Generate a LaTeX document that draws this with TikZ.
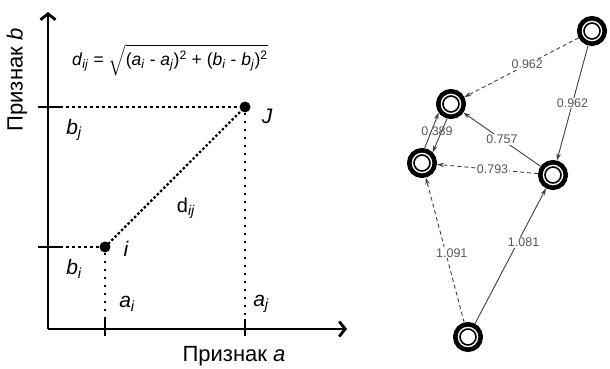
\RequirePackage{fix-cm}
\documentclass[tikz,border=0pt]{standalone}
\usepackage{amsmath}
\usepackage{fontspec}
\setmainfont{Liberation Sans}
\usetikzlibrary{arrows.meta}
\newcommand{\ftr}[2]{\textit{#1}\textsubscript{\textit{#2}}}

\begin{document}
\begin{tikzpicture}[x=1pt,y=-1pt,>=Stealth,
  axis/.style={line width=2.8pt,-{Straight Barb[length=6pt,width=15pt]}},
  tickmark/.style={line width=2.8pt},
  proj/.style={line width=1.3pt,dash pattern=on 3pt off 3pt},
  drop/.style={line width=1.6pt,dash pattern=on 2pt off 6pt},
  dist/.style={line width=3.4pt,dash pattern=on 0pt off 4.6pt,line cap=round},
  pt/.style={circle,fill,inner sep=0pt,minimum size=11pt},
  lbl/.style={font=\fontsize{21}{24}\selectfont\itshape},
  ttl/.style={font=\fontsize{22}{25}\selectfont},
  obj/.style={circle,draw,line width=4.6pt,minimum size=25.5pt,inner sep=0pt,
    path picture={\draw[line width=1.6pt] (path picture bounding box.center) circle (8pt);}},
  link/.style={line width=0.9pt,draw=black!75,-{Stealth[length=7pt,width=4.5pt]}},
  dlink/.style={link,dash pattern=on 4pt off 3pt},
  num/.style={font=\fontsize{12.5}{14}\selectfont,text=black!65,fill=white,inner sep=1pt},
]
\useasboundingbox (0,0) rectangle (610,369);

%% Axes
\def\Ox{48}
\def\Oy{329}
\coordinate (O) at (\Ox,\Oy);
\coordinate (ytop) at (\Ox,12);
\coordinate (xend) at (347,\Oy);
\draw[axis] (O) -- (ytop);
\draw[axis] (O) -- (xend);
\node[ttl,rotate=90] (tb) at (17,80) {Признак \textit{b}};
\node[ttl] (ta) at (234,356) {Признак \textit{a}};

%% Tick positions
\coordinate (ai) at (105,\Oy);
\coordinate (aj) at (245,\Oy);
\coordinate (bi) at (\Ox,247);
\coordinate (bj) at (\Ox,107);
\foreach \t in {ai,aj} \draw[tickmark] ([yshift=-7pt]\t) -- ([yshift=10pt]\t);
\foreach \t in {bi,bj} \draw[tickmark] ([xshift=-10pt]\t) -- ([xshift=12pt]\t);

%% Objects i and J
\node[pt] (pi) at (105,247) {};
\node[pt] (pj) at (245,107) {};
\draw[proj] (bj) -- (pj);
\draw[proj] (bi) -- (pi);
\draw[drop] (pj) -- (aj);
\draw[drop] (pi) -- (ai);
\draw[dist] (pi) -- (pj);

\node[lbl] (li) at (126,249) {i};
\node[lbl] (lj) at (267,116) {J};
\node[lbl] (lbj) at (74,130) {\ftr{b}{j}};
\node[lbl] (lbi) at (74,269) {\ftr{b}{i}};
\node[lbl] (lai) at (127,304) {\ftr{a}{i}};
\node[lbl] (laj) at (261,304) {\ftr{a}{j}};
\node[font=\fontsize{20}{22}\selectfont] (ld) at (186,208) {d\textsubscript{\textit{ij}}};

%% Formula
\node[font=\fontsize{17.5}{20}\selectfont] (frm) at (170,60)
  {\ftr{d}{ij} = $\sqrt{\hbox{(\ftr{a}{i} - \ftr{a}{j})\textsuperscript{2} + (\ftr{b}{i} - \ftr{b}{j})\textsuperscript{2}}}$};

%% ================================================================
%%  Graph of objects
%% ================================================================
\node[obj] (n1) at (592,31) {};
\node[obj] (n2) at (451,104) {};
\node[obj] (n3) at (422,163) {};
\node[obj] (n4) at (553,175) {};
\node[obj] (n5) at (468,337) {};

\draw[dlink] (n1) -- (n2) node[num,pos=0.45] {0.962};
\draw[link] (n1) -- (n4) node[num,pos=0.5] {0.962};
\draw[link] (n4) -- (n2) node[num,pos=0.5] {0.757};
\draw[dlink] (n4) -- (n3) node[num,pos=0.45] {0.793};
\draw[link] (n3.80) -- (n2.215);
\draw[link] (n2.255) -- (n3.45);
\node[num,fill=none] (l389) at (437,131) {0.389};
\draw[dlink] (n5) -- (n3) node[num,pos=0.48,xshift=6pt] {1.091};
\draw[link] (n5) -- (n4) node[num,pos=0.6,xshift=6pt] {1.081};

\end{tikzpicture}
\end{document}
